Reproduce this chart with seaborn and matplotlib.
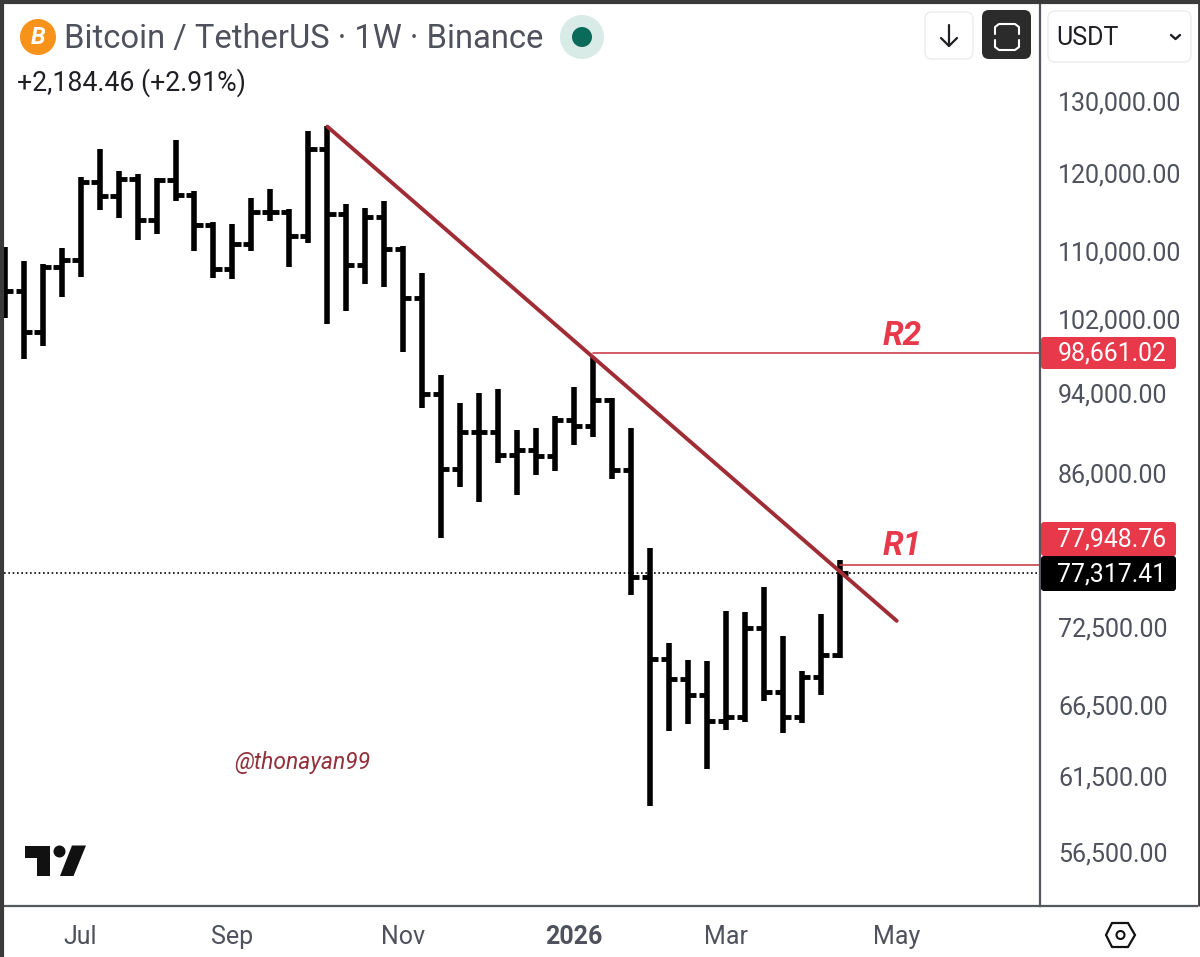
import matplotlib
matplotlib.use('Agg')
import matplotlib.pyplot as plt
from matplotlib.patches import Circle, FancyBboxPatch, Polygon
from matplotlib.ticker import NullLocator
from matplotlib.transforms import ScaledTranslation
import pandas as pd
import seaborn as sns

# weekly bars, BTCUSDT
highs = [110970, 109290, 108860, 110880, 119960, 123700, 120760, 120280, 119750, 124980, 118030, 114050, 113790, 117120, 118370, 115780, 126240, 126940, 116380, 115830, 116810, 111090, 107850, 96250, 93310, 94410, 94830, 90590, 90760, 92010, 95040, 98190, 93890, 90820, 79510, 71510, 70180, 70070, 74140, 74010, 76090, 72090, 69370, 73870, 78430]
lows = [102570, 98010, 99460, 104980, 107300, 115610, 114590, 111790, 112580, 116730, 110510, 107180, 107100, 110510, 114210, 108500, 111420, 101850, 103400, 106540, 106120, 98770, 92830, 80390, 85010, 83610, 87360, 84230, 86180, 86590, 89100, 89920, 85830, 75450, 59710, 64840, 65370, 62210, 64960, 65540, 67100, 64760, 65460, 67480, 70330]
closes = [105680, 101020, 108500, 109340, 119260, 117380, 119650, 114340, 119480, 117550, 113670, 108330, 111300, 115390, 115390, 112290, 123660, 115100, 108740, 114720, 110680, 104830, 94310, 86780, 90390, 90390, 88110, 88600, 87990, 91570, 90990, 93680, 86660, 76910, 70250, 68740, 67530, 65630, 65880, 72710, 67750, 65900, 68910, 70610, 77317.41]
opens = [105680, 105680, 101020, 108500, 109340, 119260, 117380, 119650, 114340, 119480, 117550, 113670, 108330, 111300, 115390, 115390, 112290, 123660, 115100, 108740, 114720, 110680, 104830, 94310, 86780, 90390, 90390, 88110, 88600, 87990, 91570, 90990, 93680, 86660, 76910, 70250, 68740, 67530, 65630, 65880, 72710, 67750, 65900, 68910, 70610]

price_ticks = [130000, 120000, 110000, 102000, 94000, 86000, 72500, 66500, 61500, 56500]
month_pos = [4, 12, 21, 30, 38, 47]
month_labels = ['Jul', 'Sep', 'Nov', '2026', 'Mar', 'May']

trend_x = [17, 47]
trend_y = [126800, 73300]
r2_start, r2_price = 31, 98661.02
r1_start, r1_price = 44, 77948.76
last_price = 77317.41

GREY = '#4f525d'
FRAME = '#55585f'
RED = '#e8394a'
DARK_RED = '#a02c36'

sns.set_theme(style='white')
plt.rcParams['font.family'] = ['Roboto', 'DejaVu Sans']

W, H = 1200, 957
fig = plt.figure(figsize=(W/100, H/100), dpi=100)
ax = fig.add_axes([4/W, (H-906)/H, 1036/W, 901/H])

#%% bars
n = len(closes)
df = pd.DataFrame({'bar': list(range(n))*2, 'price': highs+lows})
sns.lineplot(data=df, x='bar', y='price', units='bar', estimator=None, color='black',
             linewidth=4.0, solid_capstyle='butt', legend=False, ax=ax)
for i in range(n):
    ax.hlines(opens[i], i-0.43, i, color='black', lw=3.5)
    ax.hlines(closes[i], i, i+0.43, color='black', lw=3.5)

ax.set_yscale('log')
ax.set_xlim(-0.037, 54.55)
ax.set_ylim(53430, 145100)

#%% lines
right = ax.get_xlim()[1]
sns.lineplot(x=trend_x, y=trend_y, color=DARK_RED, linewidth=2.8, ax=ax, legend=False, solid_capstyle='round', zorder=4)
sns.lineplot(x=[r2_start, right], y=[r2_price]*2, color='#c9404c', linewidth=1.2, ax=ax, legend=False)
sns.lineplot(x=[r1_start, right], y=[r1_price]*2, color='#c9404c', linewidth=1.2, ax=ax, legend=False)
ax.axhline(last_price, color='black', lw=1.2, ls=(0, (1, 1.6)), zorder=1)

ax.text(47.3, r2_price*1.019, 'R2', color=RED, fontsize=24, fontweight='bold', style='italic', ha='center', va='center')
ax.text(47.3, r1_price*1.022, 'R1', color=RED, fontsize=24, fontweight='bold', style='italic', ha='center', va='center')
ax.text(15.7, 62660, '@thonayan99', color='#94303a', fontsize=16.5, style='italic', ha='center', va='center')

#%% axes
ax.set_xlabel('')
ax.set_ylabel('')
ax.set_xticks(month_pos)
ax.set_xticklabels(month_labels)
ax.get_xticklabels()[3].set_fontweight('bold')
ax.yaxis.tick_right()
ax.set_yticks(price_ticks)
ax.set_yticklabels([f'{p:,.2f}' for p in price_ticks])
ax.yaxis.set_minor_locator(NullLocator())
ax.tick_params(axis='x', length=0, pad=13.5, labelsize=18, labelcolor=GREY)
ax.tick_params(axis='y', length=0, pad=13, labelsize=18, labelcolor=GREY)
up = ScaledTranslation(0, 2.5/72, fig.dpi_scale_trans)
for tick in ax.yaxis.get_major_ticks():
    tick.label2.set_transform(tick.label2.get_transform() + up)
for side in ['top', 'left']:
    ax.spines[side].set_visible(False)
for side in ['right', 'bottom']:
    ax.spines[side].set_color(FRAME)
    ax.spines[side].set_linewidth(1.6)

#%% screenshot chrome, in pixel coordinates
ui = fig.add_axes([0, 0, 1, 1], facecolor='none')
ui.set_xlim(0, W)
ui.set_ylim(H, 0)
ui.axis('off')

def box(x0, y0, x1, y1, fc, ec='none', r=4, lw=1.0):
    ui.add_patch(FancyBboxPatch((x0+r, y0+r), x1-x0-2*r, y1-y0-2*r, boxstyle=f'round,pad={r}',
                                fc=fc, ec=ec, lw=lw))

ui.plot([2, 2], [0, H], color='#3a3a3a', lw=3, solid_capstyle='butt')
ui.plot([0, W], [2, 2], color='#3a3a3a', lw=3, solid_capstyle='butt')
ui.plot([1198.5, 1198.5], [0, 906], color='#3a3a3a', lw=2, solid_capstyle='butt')
ui.plot([1040, 1198], [906, 906], color=FRAME, lw=1.6, solid_capstyle='butt')

# header
ui.add_patch(Circle((38, 37), 18, fc='#f7931a', ec='none'))
ui.text(38, 37, 'B', color='white', fontsize=17, fontweight='bold', style='italic', ha='center', va='center')
ui.text(64, 39, 'Bitcoin / TetherUS · 1W · Binance', color=GREY, fontsize=23.6, ha='left', va='center')
ui.add_patch(Circle((582, 37), 22, fc='#d9ebe7', ec='none'))
ui.add_patch(Circle((582, 37), 10, fc='#0b6b5a', ec='none'))
ui.text(17, 83, '+2,184.46 (+2.91%)', color='#1f1f24', fontsize=19.2, ha='left', va='center')

# buttons
box(925, 12, 973, 59, 'white', '#ececec', r=7)
ui.plot([949, 949], [25, 46], color='#1f1f24', lw=1.6)
ui.plot([941, 949, 957], [38, 46, 38], color='#1f1f24', lw=1.6)
box(982, 10, 1031, 59, '#2b2b2b', r=7)
for sx, sy in [(1, 1), (1, -1)]:
    ui.plot([1007-12, 1007-12, 1007-8, 1007+8, 1007+12, 1007+12],
            [37-3*sy, 37-10*sy, 37-13*sy, 37-13*sy, 37-10*sy, 37-3*sy], color='white', lw=1.5)
box(1048, 11, 1191, 62, 'white', '#ececec', r=7)
ui.text(1056, 38, 'USDT', color='#1f1f24', fontsize=18, ha='left', va='center')
ui.plot([1171, 1175.5, 1180], [35, 39, 35], color='#1f1f24', lw=1.7)

# price labels
for y0, y1, fc, label in [(337, 369, RED, f'{r2_price:,.2f}'),
                          (522, 556, RED, f'{r1_price:,.2f}'),
                          (556, 591, 'black', f'{last_price:,.2f}')]:
    box(1041, y0, 1176, y1, fc, r=3)
    ui.text(1112, (y0+y1)/2+1, label, color='white', fontsize=17.8, ha='center', va='center')

# tradingview mark
ui.add_patch(Polygon([(24.5, 845.5), (49.5, 845.5), (49.5, 876), (37, 876), (37, 858), (24.5, 858)], fc='#111111', ec='none'))
ui.add_patch(Circle((59.5, 851.5), 6, fc='#111111', ec='none'))
ui.add_patch(Polygon([(72, 845.5), (86, 845.5), (73.5, 876), (60, 876)], fc='#111111', ec='none'))

# settings hexagon
ui.add_patch(Polygon([(1106, 935), (1112, 923), (1128, 923), (1135, 935), (1128, 947), (1112, 947)],
                     fc='none', ec='#111111', lw=1.6))
ui.add_patch(Circle((1120.5, 935), 4, fc='none', ec='#111111', lw=1.5))

fig.savefig('out.png', dpi=100)
